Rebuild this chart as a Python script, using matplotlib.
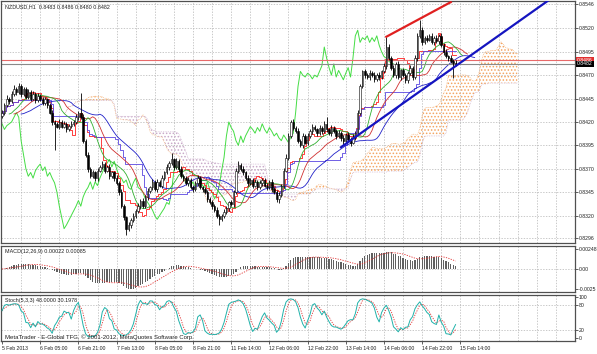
# NZDUSD H1 chart with Ichimoku, Alligator, MACD and Stochastic (MetaTrader style)

import numpy as np
import pandas as pd
import matplotlib
matplotlib.use("Agg")
import matplotlib.pyplot as plt
import matplotlib.transforms as mtrans

plt.rcParams["font.family"] = ["Liberation Sans", "DejaVu Sans"]
plt.rcParams["hatch.linewidth"] = 0.7

# =============================================================================
# Data (prices in pips, 1 pip = 0.0001)
# =============================================================================

close_pips = [
    8430, 8438, 8445, 8442, 8450, 8455, 8452, 8458, 8450, 8455, 8447, 8452, 8445, 8450, 8443, 8448, 8445, 8440, 8444, 8438,
    8430, 8420, 8418, 8415, 8420, 8415, 8418, 8412, 8416, 8418, 8420, 8425, 8430, 8425, 8400, 8385, 8370, 8362, 8366, 8360,
    8368, 8372, 8375, 8368, 8372, 8362, 8366, 8360, 8355, 8345, 8330, 8318, 8306, 8310, 8315, 8320, 8325, 8330, 8336, 8330,
    8340, 8346, 8350, 8356, 8348, 8356, 8352, 8360, 8366, 8372, 8376, 8380, 8372, 8378, 8370, 8362, 8360, 8355, 8358, 8350,
    8348, 8355, 8360, 8350, 8348, 8345, 8338, 8334, 8330, 8326, 8320, 8316, 8320, 8324, 8328, 8334, 8332, 8345, 8368, 8374,
    8370, 8366, 8360, 8355, 8358, 8352, 8356, 8350, 8355, 8358, 8352, 8350, 8356, 8348, 8345, 8338, 8342, 8352, 8368, 8382,
    8405, 8420, 8414, 8410, 8400, 8395, 8405, 8398, 8405, 8410, 8415, 8412, 8408, 8414, 8410, 8418, 8412, 8408, 8414, 8410,
    8405, 8408, 8403, 8400, 8406, 8402, 8398, 8404, 8408, 8430, 8458, 8474, 8470, 8468, 8472, 8470, 8466, 8470, 8468, 8474,
    8480, 8500, 8488, 8478, 8470, 8482, 8468, 8475, 8470, 8465, 8472, 8478, 8468, 8488, 8512, 8518, 8505, 8510, 8508, 8512,
    8505, 8510, 8506, 8512, 8502, 8495, 8490, 8488, 8485, 8483, 8482,
]
first_open_pips = 8426

wick_up_pips = [
    3, 2, 4, 2, 3, 4, 2, 4, 3, 2, 2, 3, 2, 3, 2, 3, 2, 2, 3, 2,
    2, 3, 2, 2, 3, 2, 3, 2, 2, 3, 2, 3, 2, 21, 3, 2, 3, 2, 3, 2,
    3, 2, 3, 2, 2, 3, 2, 2, 3, 2, 3, 2, 2, 3, 2, 3, 2, 3, 2, 3,
    2, 3, 2, 3, 2, 3, 2, 3, 2, 3, 2, 7, 2, 3, 2, 3, 2, 2, 3, 2,
    3, 2, 3, 2, 2, 3, 2, 2, 3, 2, 3, 2, 2, 3, 2, 2, 3, 2, 3, 4,
    2, 3, 2, 3, 2, 2, 3, 2, 3, 2, 2, 3, 2, 3, 2, 2, 3, 2, 3, 4,
    3, 2, 3, 2, 3, 2, 3, 2, 3, 2, 3, 2, 2, 3, 2, 3, 7, 2, 3, 2,
    2, 3, 2, 3, 2, 3, 2, 3, 2, 3, 3, 2, 3, 2, 3, 2, 3, 2, 3, 2,
    3, 11, 3, 2, 3, 2, 3, 2, 3, 2, 2, 3, 2, 3, 3, 11, 3, 2, 3, 2,
    3, 2, 3, 2, 3, 2, 3, 2, 3, 2, 3,
]

wick_dn_pips = [
    2, 3, 2, 3, 2, 2, 3, 2, 3, 2, 3, 2, 3, 2, 3, 2, 3, 2, 2, 3,
    2, 3, 28, 2, 3, 2, 2, 3, 2, 3, 2, 2, 3, 2, 3, 2, 3, 2, 2, 3,
    3, 2, 2, 3, 2, 3, 2, 3, 2, 3, 2, 3, 7, 2, 3, 2, 3, 2, 3, 2,
    2, 3, 2, 3, 2, 3, 2, 3, 2, 2, 3, 2, 3, 2, 3, 2, 3, 2, 3, 2,
    3, 2, 3, 2, 3, 2, 3, 2, 3, 2, 3, 6, 2, 3, 2, 3, 2, 3, 2, 3,
    2, 3, 2, 3, 2, 3, 2, 3, 2, 3, 2, 3, 2, 3, 2, 3, 5, 2, 3, 2,
    3, 2, 3, 2, 3, 2, 3, 2, 3, 2, 3, 2, 3, 2, 3, 2, 3, 2, 3, 2,
    3, 2, 3, 5, 2, 3, 4, 2, 3, 2, 3, 2, 3, 2, 3, 2, 3, 2, 3, 2,
    2, 3, 2, 3, 2, 3, 2, 3, 2, 3, 3, 2, 3, 2, 3, 2, 3, 2, 3, 2,
    2, 3, 2, 3, 2, 3, 2, 3, 2, 16, 2,
]

time_tick_bars = [0, 16, 32, 48, 64, 80, 96, 112, 128, 144, 160, 176, 192]
time_tick_labels = ["5 Feb 2013", "6 Feb 05:00", "6 Feb 21:00", "7 Feb 13:00",
                    "8 Feb 05:00", "8 Feb 21:00", "11 Feb 14:00", "12 Feb 06:00",
                    "12 Feb 22:00", "13 Feb 14:00", "14 Feb 06:00", "14 Feb 22:00",
                    "15 Feb 14:00"]

price_ticks = [0.8546, 0.8520, 0.8495, 0.8470, 0.8445, 0.8420,
               0.8395, 0.8370, 0.8345, 0.8320, 0.8296]
macd_ticks = [0.00248, 0.0, -0.0025]
macd_tick_labels = ["0.00248", "0.00", "-0.0025"]
stoch_ticks = [100, 80, 20, 0]
stoch_levels = [20, 80]

trend_blue_bars = [142, 229]
trend_blue_prices = [0.8393, 0.8550]
trend_red_bars = [161, 188]
trend_red_prices = [0.8511, 0.8548]

ask_price = 0.8486
bid_price = 0.8482

title_text = "NZDUSD,H1  0.8483 0.8486 0.8480 0.8482"
macd_text = "MACD(12,26,9) 0.00022 0.00085"
stoch_text = "Stoch(5,3,3) 48.0000 30.1978"
copyright_text = "MetaTrader - E-Global TFG, \u00a9 2001-2012, MetaQuotes Software Corp."

# =============================================================================
# OHLC and indicators
# =============================================================================

close = pd.Series(close_pips, dtype=float) / 10000
open_ = close.shift(1).fillna(first_open_pips / 10000)
high = np.maximum(open_, close) + pd.Series(wick_up_pips, dtype=float) / 10000
low = np.minimum(open_, close) - pd.Series(wick_dn_pips, dtype=float) / 10000
x = np.arange(len(close))

# Ichimoku (9, 26, 52)
tenkan = (high.rolling(9, min_periods=1).max() + low.rolling(9, min_periods=1).min()) / 2
kijun = (high.rolling(26, min_periods=1).max() + low.rolling(26, min_periods=1).min()) / 2
senkou_a = ((tenkan + kijun) / 2).values
senkou_b = ((high.rolling(52, min_periods=1).max() + low.rolling(52, min_periods=1).min()) / 2).values

# Alligator on median price (smoothed MAs, shifted forward)
median = (high + low) / 2
jaw = median.ewm(alpha=1 / 13, adjust=False).mean()
teeth = median.ewm(alpha=1 / 8, adjust=False).mean()
lips = median.ewm(alpha=1 / 5, adjust=False).mean()

# MACD (12, 26, 9)
macd = close.ewm(span=12, adjust=False).mean() - close.ewm(span=26, adjust=False).mean()
macd_signal = macd.rolling(9, min_periods=1).mean()

# Stochastic (5, 3, 3)
ll = low.rolling(5, min_periods=1).min()
hh = high.rolling(5, min_periods=1).max()
stoch_k = (close - ll).rolling(3, min_periods=1).sum() / (hh - ll).rolling(3, min_periods=1).sum() * 100
stoch_d = stoch_k.rolling(3, min_periods=1).mean()

# =============================================================================
# Figure
# =============================================================================

fig = plt.figure(figsize=(5.97, 3.54), dpi=100)
ax = fig.add_axes([0.001, 0.3136, 0.962, 0.6836])
ax_macd = fig.add_axes([0.001, 0.1751, 0.962, 0.1299], sharex=ax)
ax_st = fig.add_axes([0.001, 0.0367, 0.962, 0.1299], sharex=ax)

grid_kw = dict(color="#b4b4b4", linestyle=(0, (2, 2)), lw=0.5, zorder=0)
grid_bars = np.arange(8, 240, 8)

for a in (ax, ax_macd, ax_st):
    a.set_xlim(-0.6, 240.0)
    for s in a.spines.values():
        s.set_color("#505050")
        s.set_linewidth(0.9)
    a.yaxis.tick_right()
    a.tick_params(axis="y", labelsize=3.7, length=2, pad=1, width=0.5, colors="#202020")
    a.vlines(grid_bars, 0, 1, transform=a.get_xaxis_transform(), **grid_kw)

ax.tick_params(axis="x", bottom=False, labelbottom=False)
ax_macd.tick_params(axis="x", bottom=False, labelbottom=False)

# --- main panel --------------------------------------------------------------
ax.set_ylim(0.82907, 0.85492)
ax.set_yticks(price_ticks, labels=[f"{p:.4f}" for p in price_ticks])
ax.hlines(price_ticks, 0, 1, transform=ax.get_yaxis_transform(), **grid_kw)

xs = x + 26
ax.fill_between(xs, senkou_a, senkou_b, where=senkou_a >= senkou_b, interpolate=True,
                facecolor="none", edgecolor="#F4A460", hatch=".....", lw=0, zorder=1)
ax.fill_between(xs, senkou_a, senkou_b, where=senkou_a < senkou_b, interpolate=True,
                facecolor="none", edgecolor="#C8A8C8", hatch=".....", lw=0, zorder=1)
ax.plot(xs, senkou_a, color="#F4A460", lw=0.5, ls=(0, (1, 1.5)), zorder=1)
ax.plot(xs, senkou_b, color="#C8A8C8", lw=0.5, ls=(0, (1, 1.5)), zorder=1)

ax.plot(x[:-26], close.values[26:], color="#44dd44", lw=0.7, zorder=2)        # chikou
ax.plot(x, tenkan, color="#ff2020", lw=0.6, drawstyle="steps-mid", zorder=2)
ax.plot(x, kijun, color="#5a46e0", lw=0.6, drawstyle="steps-mid", zorder=2)
ax.plot(x + 8, jaw, color="#2020c8", lw=0.6, zorder=2)
ax.plot(x + 5, teeth, color="#d03030", lw=0.6, zorder=2)
ax.plot(x + 3, lips, color="#30b030", lw=0.6, zorder=2)

ax.axhline(ask_price, color="#e86a6a", lw=0.8, zorder=2)
ax.axhline(bid_price, color="#8a8a8a", lw=0.8, zorder=2)

up = (close >= open_).values
body_lo = np.minimum(open_, close).values
body_h = np.maximum(np.abs(close - open_).values, 0.00003)
ax.vlines(x, low, high, color="black", lw=0.6, zorder=3)
ax.bar(x[up], body_h[up], bottom=body_lo[up], width=0.62, color="white",
       edgecolor="black", lw=0.4, zorder=4)
ax.bar(x[~up], body_h[~up], bottom=body_lo[~up], width=0.62, color="black",
       edgecolor="black", lw=0.4, zorder=4)

ax.plot(trend_blue_bars, trend_blue_prices, color="#1515c0", lw=1.6, zorder=5)
ax.plot(trend_red_bars, trend_red_prices, color="#e02020", lw=1.6, zorder=5)

trans = mtrans.blended_transform_factory(ax.transAxes, ax.transData)
ax.text(1.004, ask_price, f"{ask_price:.4f}", transform=trans, fontsize=3.7, color="white",
        va="center", ha="left", clip_on=False, zorder=10,
        bbox=dict(boxstyle="square,pad=0.15", fc="#e03030", ec="none"))
ax.text(1.004, bid_price, f"{bid_price:.4f}", transform=trans, fontsize=3.7, color="white",
        va="center", ha="left", clip_on=False, zorder=10,
        bbox=dict(boxstyle="square,pad=0.15", fc="black", ec="none"))

ax.text(0.007, 0.985, title_text, transform=ax.transAxes, fontsize=3.9,
        va="top", ha="left", color="#202020")

# --- MACD panel --------------------------------------------------------------
ax_macd.set_ylim(-0.00285, 0.00285)
ax_macd.set_yticks(macd_ticks, labels=macd_tick_labels)
ax_macd.hlines([0.0], 0, 1, transform=ax_macd.get_yaxis_transform(), **grid_kw)
ax_macd.bar(x, macd, width=0.5, color="#606060", lw=0, zorder=2)
ax_macd.plot(x, macd_signal, color="#e03030", lw=0.6, ls=(0, (1.5, 1.5)), zorder=3)
ax_macd.text(0.007, 0.94, macd_text, transform=ax_macd.transAxes, fontsize=3.9,
             va="top", ha="left", color="#202020")

# --- Stochastic panel --------------------------------------------------------
ax_st.set_ylim(-7, 105)
ax_st.set_yticks(stoch_ticks, labels=[str(v) for v in stoch_ticks])
ax_st.hlines(stoch_levels, 0, 1, transform=ax_st.get_yaxis_transform(), **grid_kw)
ax_st.plot(x, stoch_k, color="#20B2AA", lw=0.7, zorder=3)
ax_st.plot(x, stoch_d, color="#e03030", lw=0.6, ls=(0, (1.5, 1.5)), zorder=2)
ax_st.text(0.007, 0.94, stoch_text, transform=ax_st.transAxes, fontsize=3.9,
           va="top", ha="left", color="#202020")
ax_st.text(0.007, 0.03, copyright_text, transform=ax_st.transAxes, fontsize=4.3,
           va="bottom", ha="left", color="#202020")

ax_st.set_xticks(time_tick_bars, labels=time_tick_labels)
ax_st.tick_params(axis="x", labelsize=3.7, length=2, pad=1.5, width=0.5, colors="#202020")
for lbl in ax_st.get_xticklabels():
    lbl.set_horizontalalignment("left")

fig.savefig("out.png", dpi=100, facecolor="white")
